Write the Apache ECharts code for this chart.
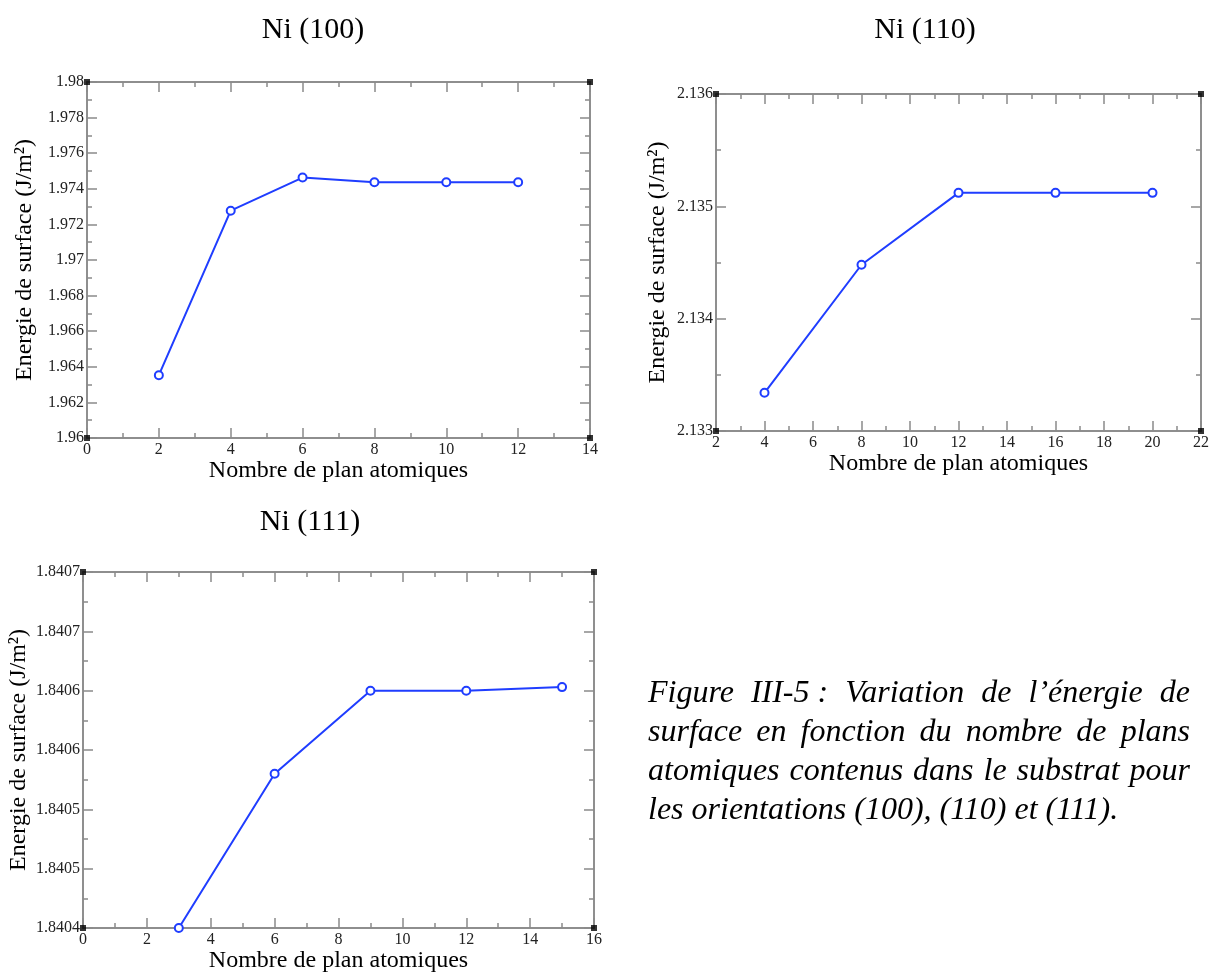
<!DOCTYPE html>
<html>
<head>
<meta charset="utf-8">
<script src="https://cdn.jsdelivr.net/npm/echarts@6/dist/echarts.min.js"></script>
<style>
html,body{margin:0;padding:0;background:#fff;}
#chart{width:1211px;height:972px;}
</style>
</head>
<body>
<div id="chart"></div>
<script>
// ---- Data ----
const titles = ['Ni (100)', 'Ni (110)', 'Ni (111)'];
const xName = 'Nombre de plan atomiques';
const yName = 'Energie de surface (J/m²)';

const x100 = [2, 4, 6, 8, 10, 12];
const y100 = [1.96353, 1.97277, 1.97463, 1.97437, 1.97437, 1.97437];
const x110 = [4, 8, 12, 16, 20];
const y110 = [2.13334, 2.13448, 2.13512, 2.13512, 2.13512];
const x111 = [3, 6, 9, 12, 15];
const y111 = [1.84040, 1.84053, 1.84060, 1.84060, 1.840603];

const xRange100 = [0, 14], xStep100 = 2;
const yRange100 = [1.96, 1.98], yStep100 = 0.002;
const xRange110 = [2, 22], xStep110 = 2;
const yRange110 = [2.133, 2.136], yStep110 = 0.001;
const xRange111 = [0, 16], xStep111 = 2;
const yRange111 = [1.8404, 1.8407], yStep111 = 0.00005;
const yTickLabels111 = ['1.8404', '1.8405', '1.8405', '1.8406', '1.8406', '1.8407', '1.8407'];

const captionLines = [
  'Figure III-5 : Variation de l’énergie de',
  'surface en fonction du nombre de plans',
  'atomiques contenus dans le substrat pour',
  'les orientations (100), (110) et (111).'
];

// ---- Style ----
const FONT = '"Liberation Serif", "Times New Roman", serif';
const AXIS_COLOR = '#6a6a6a';
const TICK_COLOR = '#8a8a8a';
const LINE_COLOR = '#1f3dff';

const panels = [
  {title: titles[0], tx: 313, ty: 30, rect: {left: 87, top: 82, width: 503, height: 356},
   xs: x100, ys: y100, xr: xRange100, xi: xStep100, yr: yRange100, yi: yStep100, yfmt: null, yGap: 50},
  {title: titles[1], tx: 925, ty: 30, rect: {left: 716, top: 94, width: 485, height: 337},
   xs: x110, ys: y110, xr: xRange110, xi: xStep110, yr: yRange110, yi: yStep110, yfmt: null, yGap: 46},
  {title: titles[2], tx: 310, ty: 522, rect: {left: 83, top: 572, width: 511, height: 356},
   xs: x111, ys: y111, xr: xRange111, xi: xStep111, yr: yRange111, yi: yStep111,
   yfmt: v => yTickLabels111[Math.round((v - yRange111[0]) / yStep111)], yGap: 52}
];

const grid = [], xAxis = [], yAxis = [], series = [], graphic = [];

function axisCommon(min, max, interval) {
  return {
    type: 'value', min: min, max: max, interval: interval,
    axisLine: {show: true, onZero: false, lineStyle: {color: AXIS_COLOR, width: 1.5}},
    axisTick: {show: true, inside: true, length: 10, lineStyle: {color: TICK_COLOR, width: 1.5}},
    minorTick: {show: true, splitNumber: 2, length: 5, lineStyle: {color: TICK_COLOR, width: 1.5}},
    splitLine: {show: false},
    minorSplitLine: {show: false}
  };
}

panels.forEach((p, i) => {
  grid.push(Object.assign({show: false, outerBoundsMode: 'none', containLabel: false}, p.rect));
  const labelStyle = {fontFamily: FONT, fontSize: 16, color: '#222', showMinLabel: true, showMaxLabel: true, hideOverlap: false};
  // bottom x
  xAxis.push(Object.assign(axisCommon(p.xr[0], p.xr[1], p.xi), {
    gridIndex: i, position: 'bottom',
    axisLabel: Object.assign({margin: 4}, labelStyle),
    name: xName, nameLocation: 'middle', nameGap: 21,
    nameTextStyle: {fontFamily: FONT, fontSize: 24, color: '#000'}
  }));
  // top x (mirror)
  xAxis.push(Object.assign(axisCommon(p.xr[0], p.xr[1], p.xi), {
    gridIndex: i, position: 'top', axisLabel: {show: false}
  }));
  // left y
  const yl = Object.assign({margin: 3}, labelStyle);
  if (p.yfmt) yl.formatter = p.yfmt;
  yAxis.push(Object.assign(axisCommon(p.yr[0], p.yr[1], p.yi), {
    gridIndex: i, position: 'left',
    axisLabel: yl,
    name: yName, nameLocation: 'middle', nameGap: p.yGap,
    nameTextStyle: {fontFamily: FONT, fontSize: 24, color: '#000'}
  }));
  // right y (mirror)
  yAxis.push(Object.assign(axisCommon(p.yr[0], p.yr[1], p.yi), {
    gridIndex: i, position: 'right', axisLabel: {show: false}
  }));

  series.push({
    type: 'line', xAxisIndex: 2 * i, yAxisIndex: 2 * i,
    data: p.xs.map((x, k) => [x, p.ys[k]]),
    symbol: 'emptyCircle', symbolSize: 8, showSymbol: true, clip: false,
    lineStyle: {color: LINE_COLOR, width: 2},
    itemStyle: {color: LINE_COLOR, borderColor: LINE_COLOR, borderWidth: 1.6},
    z: 5
  });
  // corner squares of the frame
  series.push({
    type: 'scatter', xAxisIndex: 2 * i, yAxisIndex: 2 * i, silent: true, clip: false,
    data: [[p.xr[0], p.yr[0]], [p.xr[0], p.yr[1]], [p.xr[1], p.yr[0]], [p.xr[1], p.yr[1]]],
    symbol: 'rect', symbolSize: 6, itemStyle: {color: '#000'}, z: 6
  });

  graphic.push({
    type: 'text', x: p.tx, y: p.ty, silent: true,
    style: {text: p.title, fontFamily: FONT, fontSize: 30, fill: '#000', align: 'center', verticalAlign: 'middle'}
  });
});

// Caption, justified
const capLeft = 648, capRight = 1190, capTop = 694, capLineH = 39, capSize = 32;
const cv = document.createElement('canvas').getContext('2d');
cv.font = 'italic ' + capSize + 'px "Liberation Serif"';
captionLines.forEach((line, li) => {
  const words = line.split(/ (?!:)/);
  const y = capTop + li * capLineH;
  const last = li === captionLines.length - 1;
  const widths = words.map(w => cv.measureText(w).width);
  const total = widths.reduce((a, b) => a + b, 0);
  const gap = last ? cv.measureText(' ').width : (capRight - capLeft - total) / (words.length - 1);
  let x = capLeft;
  words.forEach((w, k) => {
    graphic.push({
      type: 'text', x: x, y: y, silent: true,
      style: {text: w, fontFamily: FONT, fontSize: capSize, fontStyle: 'italic', fill: '#000', align: 'left', verticalAlign: 'middle'}
    });
    x += widths[k] + gap;
  });
});

const chart = echarts.init(document.getElementById('chart'), null, {renderer: 'canvas'});
chart.setOption({
  animation: false,
  backgroundColor: '#fff',
  grid: grid, xAxis: xAxis, yAxis: yAxis, series: series, graphic: graphic
});
</script>
</body>
</html>
